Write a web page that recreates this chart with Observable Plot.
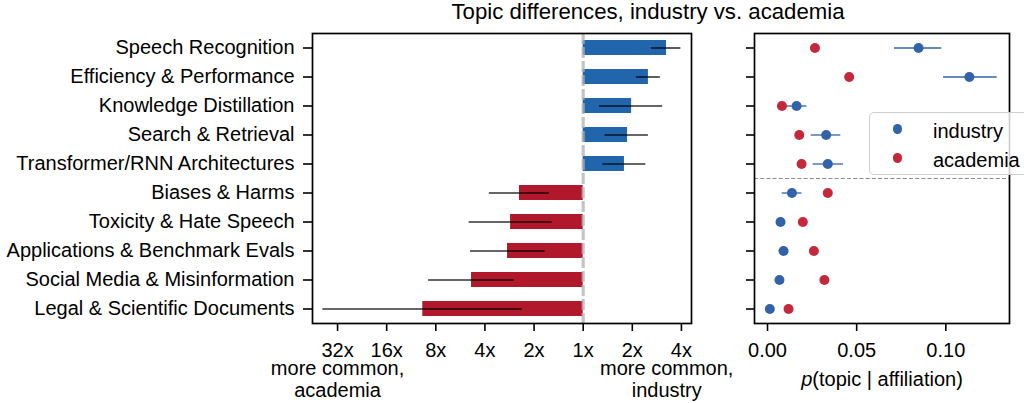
<!DOCTYPE html>
<html><head><meta charset="utf-8">
<script src="https://cdn.jsdelivr.net/npm/d3@7"></script>
<script src="https://cdn.jsdelivr.net/npm/@observablehq/plot@0.6"></script>
<style>
body{margin:0;background:#fff;overflow:hidden}
#wrap{position:relative;width:1024px;height:403px;overflow:hidden;font-family:"Liberation Sans",Arial,sans-serif;color:#000}
#wrap svg{position:absolute;top:0}
.title{position:absolute;top:1px;left:648px;transform:translateX(-50%);white-space:nowrap;font-size:22.2px;line-height:1}
.xlab{position:absolute;top:369px;left:882px;transform:translateX(-50%);white-space:nowrap;font-size:20px;line-height:1}
.legend{position:absolute;left:869px;top:112px;width:175px;height:63px;box-sizing:border-box;border:1.3px solid #cfcfcf;border-radius:5px;background:rgba(255,255,255,0.8)}
.legend .row{position:absolute;left:0;height:20px;font-size:20px;line-height:1}
.legend .sw{position:absolute;width:9.6px;height:9.6px;border-radius:50%}
.legend .lb{position:absolute;left:63px;white-space:nowrap}
</style></head><body>
<div id="wrap"></div>
<script>
// ---- data ----
const topics = ["Speech Recognition","Efficiency & Performance","Knowledge Distillation","Search & Retrieval","Transformer/RNN Architectures","Biases & Harms","Toxicity & Hate Speech","Applications & Benchmark Evals","Social Media & Misinformation","Legal & Scientific Documents"];
// ratio p(topic|industry) / p(topic|academia), with interval
const ratio   = [3.24, 2.51, 1.98, 1.87, 1.79, 0.407, 0.359, 0.344, 0.207, 0.104];
const ratioLo = [2.62, 2.12, 1.26, 1.36, 1.32, 0.266, 0.200, 0.204, 0.113, 0.0254];
const ratioHi = [3.97, 2.97, 3.07, 2.51, 2.42, 0.622, 0.646, 0.585, 0.378, 0.423];
const pIndustry   = [0.0847, 0.1132, 0.0163, 0.0329, 0.0338, 0.0137, 0.0073, 0.0090, 0.0067, 0.0013];
const pIndustryLo = [0.0712, 0.0987, 0.0103, 0.0245, 0.0256, 0.0082, 0.0053, 0.0065, 0.0045, 0.0005];
const pIndustryHi = [0.0977, 0.1288, 0.0221, 0.0411, 0.0426, 0.0193, 0.0093, 0.0115, 0.0089, 0.0021];
const pAcademia   = [0.0266, 0.0458, 0.0081, 0.0178, 0.0191, 0.0338, 0.0198, 0.0260, 0.0319, 0.0118];
const pAcademiaLo = [0.0245, 0.0435, 0.0068, 0.0165, 0.0178, 0.0318, 0.0185, 0.0245, 0.0298, 0.0108];
const pAcademiaHi = [0.0287, 0.0480, 0.0094, 0.0191, 0.0204, 0.0358, 0.0211, 0.0275, 0.0340, 0.0128];
const ratioTicks = [1/32, 1/16, 1/8, 1/4, 1/2, 1, 2, 4];
const ratioTickLabels = ["32x","16x","8x","4x","2x","1x","2x","4x"];
const pTicks = [0, 0.05, 0.10];
const sideNotes = [{x: 1/32, label: "more common,\nacademia"}, {x: 3.25, label: "more common,\nindustry"}];
const groups = ["industry", "academia"];
const barColors = ["#2166ac", "#b2182b"];
const dotColors = ["#3263a8", "#c4283a"];
const dividerAfter = 4.5;
const titleText = "Topic differences, industry vs. academia";

// ---- build ----
const FONT = '"Liberation Sans", Arial, sans-serif';
const wrap = document.getElementById("wrap");

const rows = topics.map((t, i) => ({topic: t, r: ratio[i], lo: ratioLo[i], hi: ratioHi[i], side: ratio[i] >= 1 ? "industry" : "academia"}));

const left = Plot.plot({
  width: 700, height: 403,
  marginLeft: 312, marginRight: 9, marginTop: 33, marginBottom: 80,
  style: {fontSize: "20px", fontFamily: FONT, color: "#000", background: "transparent", overflow: "visible"},
  x: {type: "log", base: 2, domain: [2 ** -5.51, 2 ** 2.205]},
  y: {type: "band", domain: topics, paddingInner: 0.5, paddingOuter: 0.25},
  color: {domain: groups, range: barColors},
  marks: [
    Plot.barX(rows, {x1: 1, x2: "r", y: "topic", fill: "side"}),
    Plot.ruleY(rows, {x1: "lo", x2: "hi", y: "topic", stroke: "#000", strokeWidth: 1.6, strokeOpacity: 0.8}),
    Plot.ruleX([1], {stroke: "#b0b0b0", strokeWidth: 3.2, strokeDasharray: "11,3", strokeOpacity: 0.75}),
    Plot.axisX({ticks: ratioTicks, tickFormat: d => ratioTickLabels[ratioTicks.indexOf(d)], tickSize: 8, tickPadding: 11.5, strokeWidth: 1.6, label: null}),
    Plot.axisY({tickSize: 9, tickPadding: 9, strokeWidth: 1.6, label: null}),
    Plot.text(sideNotes, {x: "x", text: "label", frameAnchor: "bottom", lineAnchor: "top", dy: 36.5, lineHeight: 1.08, fill: "#000"}),
    Plot.frame({stroke: "#000", strokeWidth: 1.7})
  ]
});
left.style.left = "0px";
wrap.appendChild(left);

const dots = [];
topics.forEach((t, i) => {
  dots.push({i, who: "industry", p: pIndustry[i], lo: pIndustryLo[i], hi: pIndustryHi[i]});
});
topics.forEach((t, i) => {
  dots.push({i, who: "academia", p: pAcademia[i], lo: pAcademiaLo[i], hi: pAcademiaHi[i]});
});

const right = Plot.plot({
  width: 324, height: 403,
  marginLeft: 54, marginRight: 15, marginTop: 33, marginBottom: 80,
  style: {fontSize: "20px", fontFamily: FONT, color: "#000", background: "transparent", overflow: "visible"},
  x: {domain: [-0.0073, 0.1357]},
  y: {domain: [-0.5, topics.length - 0.5], reverse: true},
  color: {domain: groups, range: dotColors},
  marks: [
    Plot.ruleY([dividerAfter], {stroke: "#8a8a8a", strokeWidth: 1.1, strokeDasharray: "4,2.2"}),
    Plot.ruleY(dots, {x1: "lo", x2: "hi", y: "i", stroke: "who", strokeWidth: 1.3}),
    Plot.dot(dots, {x: "p", y: "i", fill: "who", r: 5}),
    Plot.axisX({ticks: pTicks, tickFormat: d3.format(".2f"), tickSize: 8, tickPadding: 11.5, strokeWidth: 1.6, label: null}),
    Plot.axisY({ticks: d3.range(topics.length), tickFormat: () => "", tickSize: 8, strokeWidth: 1.6, label: null}),
    Plot.frame({stroke: "#000", strokeWidth: 1.7})
  ]
});
right.style.left = "700px";
wrap.appendChild(right);

const title = document.createElement("div");
title.className = "title";
title.textContent = titleText;
wrap.appendChild(title);

const xlab = document.createElement("div");
xlab.className = "xlab";
xlab.innerHTML = "<i>p</i>(topic | affiliation)";
wrap.appendChild(xlab);

const legend = document.createElement("div");
legend.className = "legend";
groups.forEach((g, k) => {
  const row = document.createElement("div");
  row.className = "row";
  row.style.top = (8 + k * 28.7) + "px";
  const sw = document.createElement("div");
  sw.className = "sw";
  sw.style.background = dotColors[k];
  sw.style.left = (27.7 - 4.8) + "px";
  sw.style.top = (9 - 4.8 - 0.8) + "px";
  const lb = document.createElement("div");
  lb.className = "lb";
  lb.textContent = g;
  row.appendChild(sw);
  row.appendChild(lb);
  legend.appendChild(row);
});
wrap.appendChild(legend);
</script>
</body></html>
